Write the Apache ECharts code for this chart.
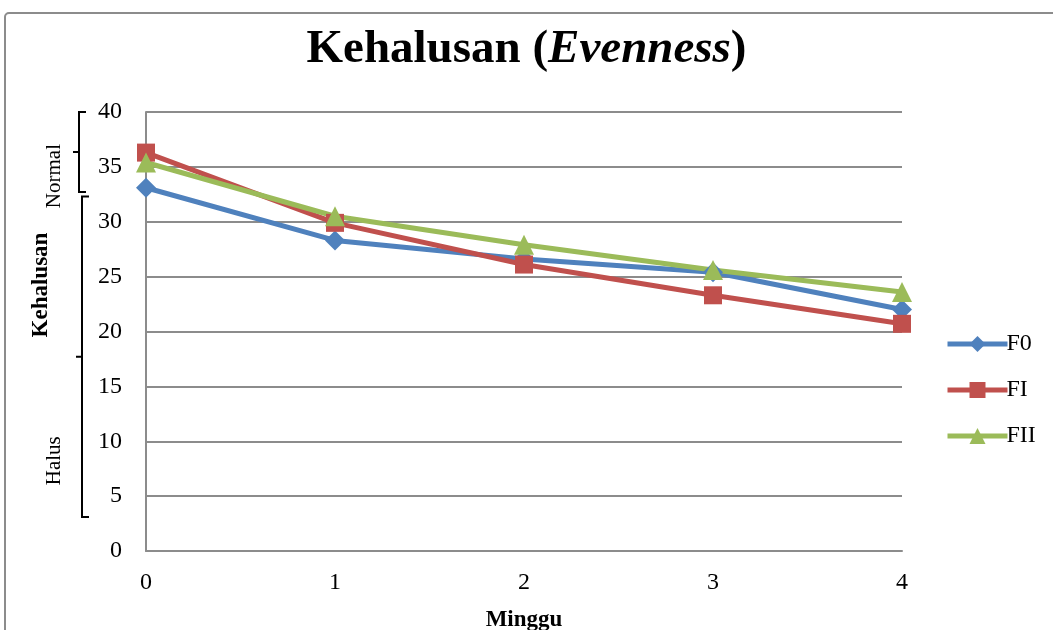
<!DOCTYPE html>
<html>
<head>
<meta charset="utf-8">
<script src="https://cdn.jsdelivr.net/npm/echarts@6/dist/echarts.min.js"></script>
<style>
  html, body { margin: 0; padding: 0; background: #fff; }
  #chart { width: 1053px; height: 630px; }
</style>
</head>
<body>
<div id="chart"></div>
<script>
// Weeks of observation
const weeks = ['0', '1', '2', '3', '4'];
// Evenness score per formula
const f0 = [33.1, 28.3, 26.6, 25.4, 22.0];
const fI = [36.3, 29.9, 26.1, 23.3, 20.7];
const fII = [35.4, 30.5, 27.9, 25.6, 23.6];
const seriesNames = ['F0', 'FI', 'FII'];
// Category ranges shown as braces beside the value axis
const rangeNormal = [40, 32.7];
const rangeHalus = [32.3, 3.1];

const FONT = '"Liberation Serif", "Times New Roman", serif';
const chart = echarts.init(document.getElementById('chart'), null, { renderer: 'canvas' });

function lineSeries(name, data, color, symbol, size) {
  return {
    name: name,
    type: 'line',
    data: data,
    symbol: symbol,
    symbolSize: size,
    itemStyle: { color: color },
    lineStyle: { color: color, width: 5 },
    emphasis: { disabled: true },
    animation: false
  };
}

chart.setOption({
  animation: false,
  title: {
    text: 'Kehalusan ({i|Evenness})',
    left: 'center',
    top: 21,
    textStyle: {
      fontFamily: FONT, fontSize: 47, fontWeight: 'bold', color: '#000',
      rich: { i: { fontFamily: FONT, fontSize: 47, fontWeight: 'bold', fontStyle: 'italic', color: '#000' } }
    }
  },
  grid: { left: 146, right: 151, top: 112, bottom: 79, outerBoundsMode: 'none' },
  legend: {
    data: seriesNames,
    orient: 'vertical',
    left: 940,
    top: 327,
    itemWidth: 60,
    itemHeight: 20,
    itemGap: 22,
    lineStyle: { width: 5 },
    textStyle: { fontFamily: FONT, fontSize: 24, color: '#000', padding: [0, 0, 0, -6] }
  },
  xAxis: {
    type: 'category',
    data: weeks,
    boundaryGap: false,
    name: 'Minggu',
    nameLocation: 'middle',
    nameGap: 58,
    nameTextStyle: { fontFamily: FONT, fontSize: 23, fontWeight: 'bold', color: '#000' },
    axisLine: { lineStyle: { color: '#8c8c8c', width: 2 } },
    axisTick: { show: false },
    axisLabel: { fontFamily: FONT, fontSize: 24, color: '#000', margin: 20 },
    splitLine: { show: false }
  },
  yAxis: {
    type: 'value',
    min: 0,
    max: 40,
    interval: 5,
    axisLine: { show: true, lineStyle: { color: '#8c8c8c', width: 2 } },
    axisTick: { show: false },
    axisLabel: { fontFamily: FONT, fontSize: 24, color: '#000', margin: 24 },
    splitLine: { lineStyle: { color: '#8c8c8c', width: 2 } }
  },
  series: [
    lineSeries('F0', f0, '#4F81BD', 'diamond', 20),
    lineSeries('FI', fI, '#C0504D', 'rect', 18),
    lineSeries('FII', fII, '#9BBB59', 'triangle', 20)
  ]
});

// Braces and range labels along the value axis
function brace(x, v0, v1) {
  const y0 = chart.convertToPixel({ yAxisIndex: 0 }, v0);
  const y1 = chart.convertToPixel({ yAxisIndex: 0 }, v1);
  const ym = (y0 + y1) / 2;
  return {
    type: 'polyline',
    shape: { points: [[x + 7, y0], [x, y0], [x, ym], [x - 6, ym], [x, ym], [x, y1], [x + 7, y1]] },
    style: { stroke: '#000', lineWidth: 2, fill: null }
  };
}
function sideText(text, x, y, bold) {
  return {
    type: 'text',
    x: x, y: y,
    rotation: Math.PI / 2,
    style: {
      text: text, fontFamily: FONT, fontSize: bold ? 23 : 21,
      fontWeight: bold ? 'bold' : 'normal', fill: '#000',
      align: 'center', verticalAlign: 'middle'
    }
  };
}
const nMid = chart.convertToPixel({ yAxisIndex: 0 }, (rangeNormal[0] + rangeNormal[1]) / 2);
const hMid = chart.convertToPixel({ yAxisIndex: 0 }, (rangeHalus[0] + rangeHalus[1]) / 2);

chart.setOption({
  graphic: [
    {
      type: 'rect',
      shape: { x: 5, y: 13, width: 1200, height: 800, r: 4 },
      style: { fill: null, stroke: '#8c8c8c', lineWidth: 2 },
      silent: true
    },
    brace(79, rangeNormal[0], rangeNormal[1]),
    brace(82, rangeHalus[0], rangeHalus[1]),
    sideText('Normal', 54, nMid + 24, false),
    sideText('Halus', 54, hMid + 104, false),
    sideText('Kehalusan', 41, 285, true)
  ]
});
</script>
</body>
</html>
